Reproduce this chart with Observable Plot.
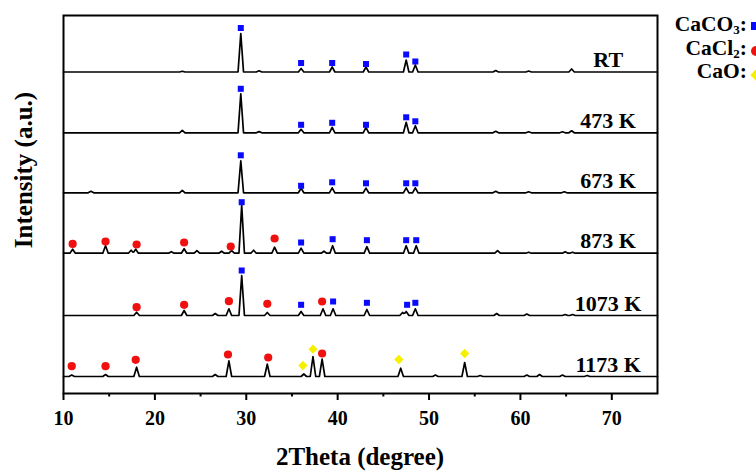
<!DOCTYPE html>
<html><head><meta charset="utf-8">
<script src="https://cdn.jsdelivr.net/npm/d3@7"></script>
<script src="https://cdn.jsdelivr.net/npm/@observablehq/plot@0.6"></script>
<style>
html,body{margin:0;padding:0;background:#fff;}
#wrap{position:relative;width:756px;height:474px;overflow:hidden;font-family:"Liberation Serif","Times New Roman",serif;font-weight:bold;color:#000;}
#wrap svg{position:absolute;left:0;top:0;}
.ytitle{position:absolute;left:0;top:0;width:300px;text-align:center;font-size:25px;line-height:1;white-space:nowrap;transform-origin:0 0;transform:translate(10.5px,320px) rotate(-90deg);}
.xtitle{position:absolute;left:210px;top:444px;width:300px;text-align:center;font-size:25px;line-height:1;white-space:nowrap;}
.leg{position:absolute;right:9px;font-size:21.5px;line-height:1;height:21px;white-space:nowrap;}
.leg sub{font-size:13px;line-height:0;vertical-align:baseline;position:relative;top:3px;}
.sym{position:absolute;left:751px;}
</style></head><body><div id="wrap"></div>
<script>
// sample names and their vertical stacking offsets (a.u.)
const samples = ["RT", "473 K", "673 K", "873 K", "1073 K", "1173 K"];
const offsets = [321.5, 260.7, 200.7, 140.3, 78, 17];

// peaks: [2theta, intensity above the sample baseline]
const peaksRT = [[23.0,0.8],[29.4,38.5],[31.4,1.2],[36.0,3.5],[39.4,5],[43.1,5],[47.5,12],[48.5,7],[57.3,1.5],[60.9,1],[65.6,3]];
const peaks473 = [[23.0,2.5],[29.4,39],[31.4,1.2],[36.0,3.5],[39.4,5.5],[43.1,5.5],[47.5,10.5],[48.5,7],[57.3,1.5],[60.9,1],[64.6,1],[65.6,2]];
const peaks673 = [[13.0,1.5],[23.0,2.5],[29.4,32],[36.0,4.5],[39.4,5],[43.1,4.7],[47.5,5],[48.5,5],[57.3,1.5],[60.9,1],[64.8,1]];
const peaks873 = [[11.0,4],[14.6,7.5],[17.4,3],[17.9,4],[21.8,1.5],[23.2,4.5],[24.6,2.5],[27.3,2],[28.4,2.5],[29.5,48],[30.8,3],[33.1,6],[36.0,5],[38.5,2],[39.45,7.5],[43.2,6.5],[47.5,7.5],[48.6,7.5],[57.5,2.5],[60.9,1],[64.9,1.5],[65.7,1]];
const peaks1073 = [[18.0,3.3],[23.2,5],[26.6,2],[28.1,6.7],[29.5,40],[32.3,3],[36.0,4],[38.4,6.7],[39.5,6.7],[43.2,6],[47.1,3],[47.5,4],[48.5,6.7],[57.4,2],[60.7,1.5],[64.9,1],[65.7,1]];
const peaks1173 = [[10.9,1.5],[14.6,2],[18.0,9.3],[26.6,2],[28.1,15.7],[32.3,12.3],[36.3,2.5],[37.3,20],[38.3,17.3],[46.9,8.3],[50.7,1.5],[53.9,14],[55.6,1],[60.7,1.5],[62.1,2],[64.6,1.5],[67.3,1]];
const peaks = [peaksRT, peaks473, peaks673, peaks873, peaks1073, peaks1173];

// phase markers: [sample, 2theta, height above baseline]
const caco3Marks = [
  ["RT",29.4,44],["RT",36.0,9],["RT",39.4,9],["RT",43.1,8],["RT",47.5,17.5],["RT",48.5,10.5],
  ["473 K",29.4,44],["473 K",36.0,8],["473 K",39.4,10],["473 K",43.1,8],["473 K",47.5,15.5],["473 K",48.5,11.5],
  ["673 K",29.4,37.5],["673 K",36.0,7],["673 K",39.4,10.5],["673 K",43.1,9.5],["673 K",47.5,9.5],["673 K",48.5,9.5],
  ["873 K",29.5,51],["873 K",36.0,10.7],["873 K",39.45,14],["873 K",43.2,13],["873 K",47.5,13],["873 K",48.6,13],
  ["1073 K",29.5,45],["1073 K",36.0,10.7],["1073 K",39.5,14],["1073 K",43.2,12.7],["1073 K",47.6,10.7],["1073 K",48.5,12.7]
];
const cacl2Marks = [
  ["873 K",11.0,9.3],["873 K",14.6,11.7],["873 K",18.0,8.7],["873 K",23.2,10.7],["873 K",28.3,6.7],["873 K",33.1,14.7],
  ["1073 K",18.0,8.3],["1073 K",23.2,10.7],["1073 K",28.1,14.3],["1073 K",32.3,11.7],["1073 K",38.3,14],
  ["1173 K",10.9,10.3],["1173 K",14.6,10.3],["1173 K",17.9,16.7],["1173 K",28.0,22],["1173 K",32.4,19],["1173 K",38.3,23]
];
const caoMarks = [["1173 K",36.2,11],["1173 K",37.3,27.3],["1173 K",46.7,17],["1173 K",53.9,23]];

const majorTicks = [10,20,30,40,50,60,70];
const minorTicks = [15,25,35,45,55,65];

// build line table: triangular peaks on each stacked baseline
const HW = 0.3;
const lineData = [];
samples.forEach((s, i) => {
  const ps = peaks[i];
  const xs = [10, 75];
  ps.forEach(([p]) => xs.push(p - HW, p, p + HW));
  xs.sort((a, b) => a - b);
  xs.forEach(x => {
    let v = 0;
    ps.forEach(([p, h]) => { v = Math.max(v, h * (1 - Math.abs(x - p) / HW)); });
    lineData.push({sample: s, x, y: offsets[i] + v});
  });
});
const yOf = d => offsets[samples.indexOf(d[0])] + d[2];
const labels = samples.map((s, i) => ({s, y: offsets[i]}));

const chart = Plot.plot({
  width: 756, height: 474,
  marginLeft: 63, marginRight: 99, marginTop: 15, marginBottom: 81,
  style: {fontFamily: "'Liberation Serif','Times New Roman',serif", background: "transparent", color: "#000"},
  x: {domain: [10, 75]},
  y: {domain: [0, 378], axis: null},
  marks: [
    Plot.line(lineData, {x: "x", y: "y", z: "sample", stroke: "#000", strokeWidth: 1.7}),
    Plot.text(labels, {x: 69.6, y: "y", text: "s", fontSize: 22, fontWeight: "bold", textAnchor: "middle", lineAnchor: "bottom", dy: -5, fill: "#000"}),
    Plot.dot(caco3Marks, {x: d => d[1], y: yOf, symbol: "square", r: 3.4, fill: "#0a0aff", stroke: "none"}),
    Plot.dot(cacl2Marks, {x: d => d[1], y: yOf, symbol: "circle", r: 4.1, fill: "#f01010", stroke: "none"}),
    Plot.dot(caoMarks, {x: d => d[1], y: yOf, symbol: d3.symbolDiamond2, r: 4.2, fill: "#f5f000", stroke: "none"}),
    Plot.axisX({ticks: majorTicks, tickSize: 7, tickPadding: 10, strokeWidth: 2, fontSize: 20, fontWeight: "bold", label: null, tickFormat: d => String(d)}),
    Plot.axisX({ticks: minorTicks, tickSize: 3.5, strokeWidth: 2, tickFormat: () => "", label: null}),
    Plot.frame({stroke: "#000", strokeWidth: 2})
  ]
});

const wrap = document.getElementById("wrap");
wrap.appendChild(chart);
wrap.insertAdjacentHTML("beforeend",
  '<div class="ytitle">Intensity (a.u.)</div>' +
  '<div class="xtitle">2Theta (degree)</div>' +
  '<div class="leg" style="top:14px">CaCO<sub>3</sub>:</div>' +
  '<div class="leg" style="top:37.5px">CaCl<sub>2</sub>:</div>' +
  '<div class="leg" style="top:61px">CaO:</div>' +
  '<div class="sym" style="top:22px;width:8px;height:8px;background:#0a0aff"></div>' +
  '<div class="sym" style="top:46px;width:10px;height:10px;border-radius:50%;background:#f01010"></div>' +
  '<div class="sym" style="top:71px;left:752px;width:8px;height:8px;background:#f5f000;transform:rotate(45deg)"></div>'
);
</script>
</body></html>
